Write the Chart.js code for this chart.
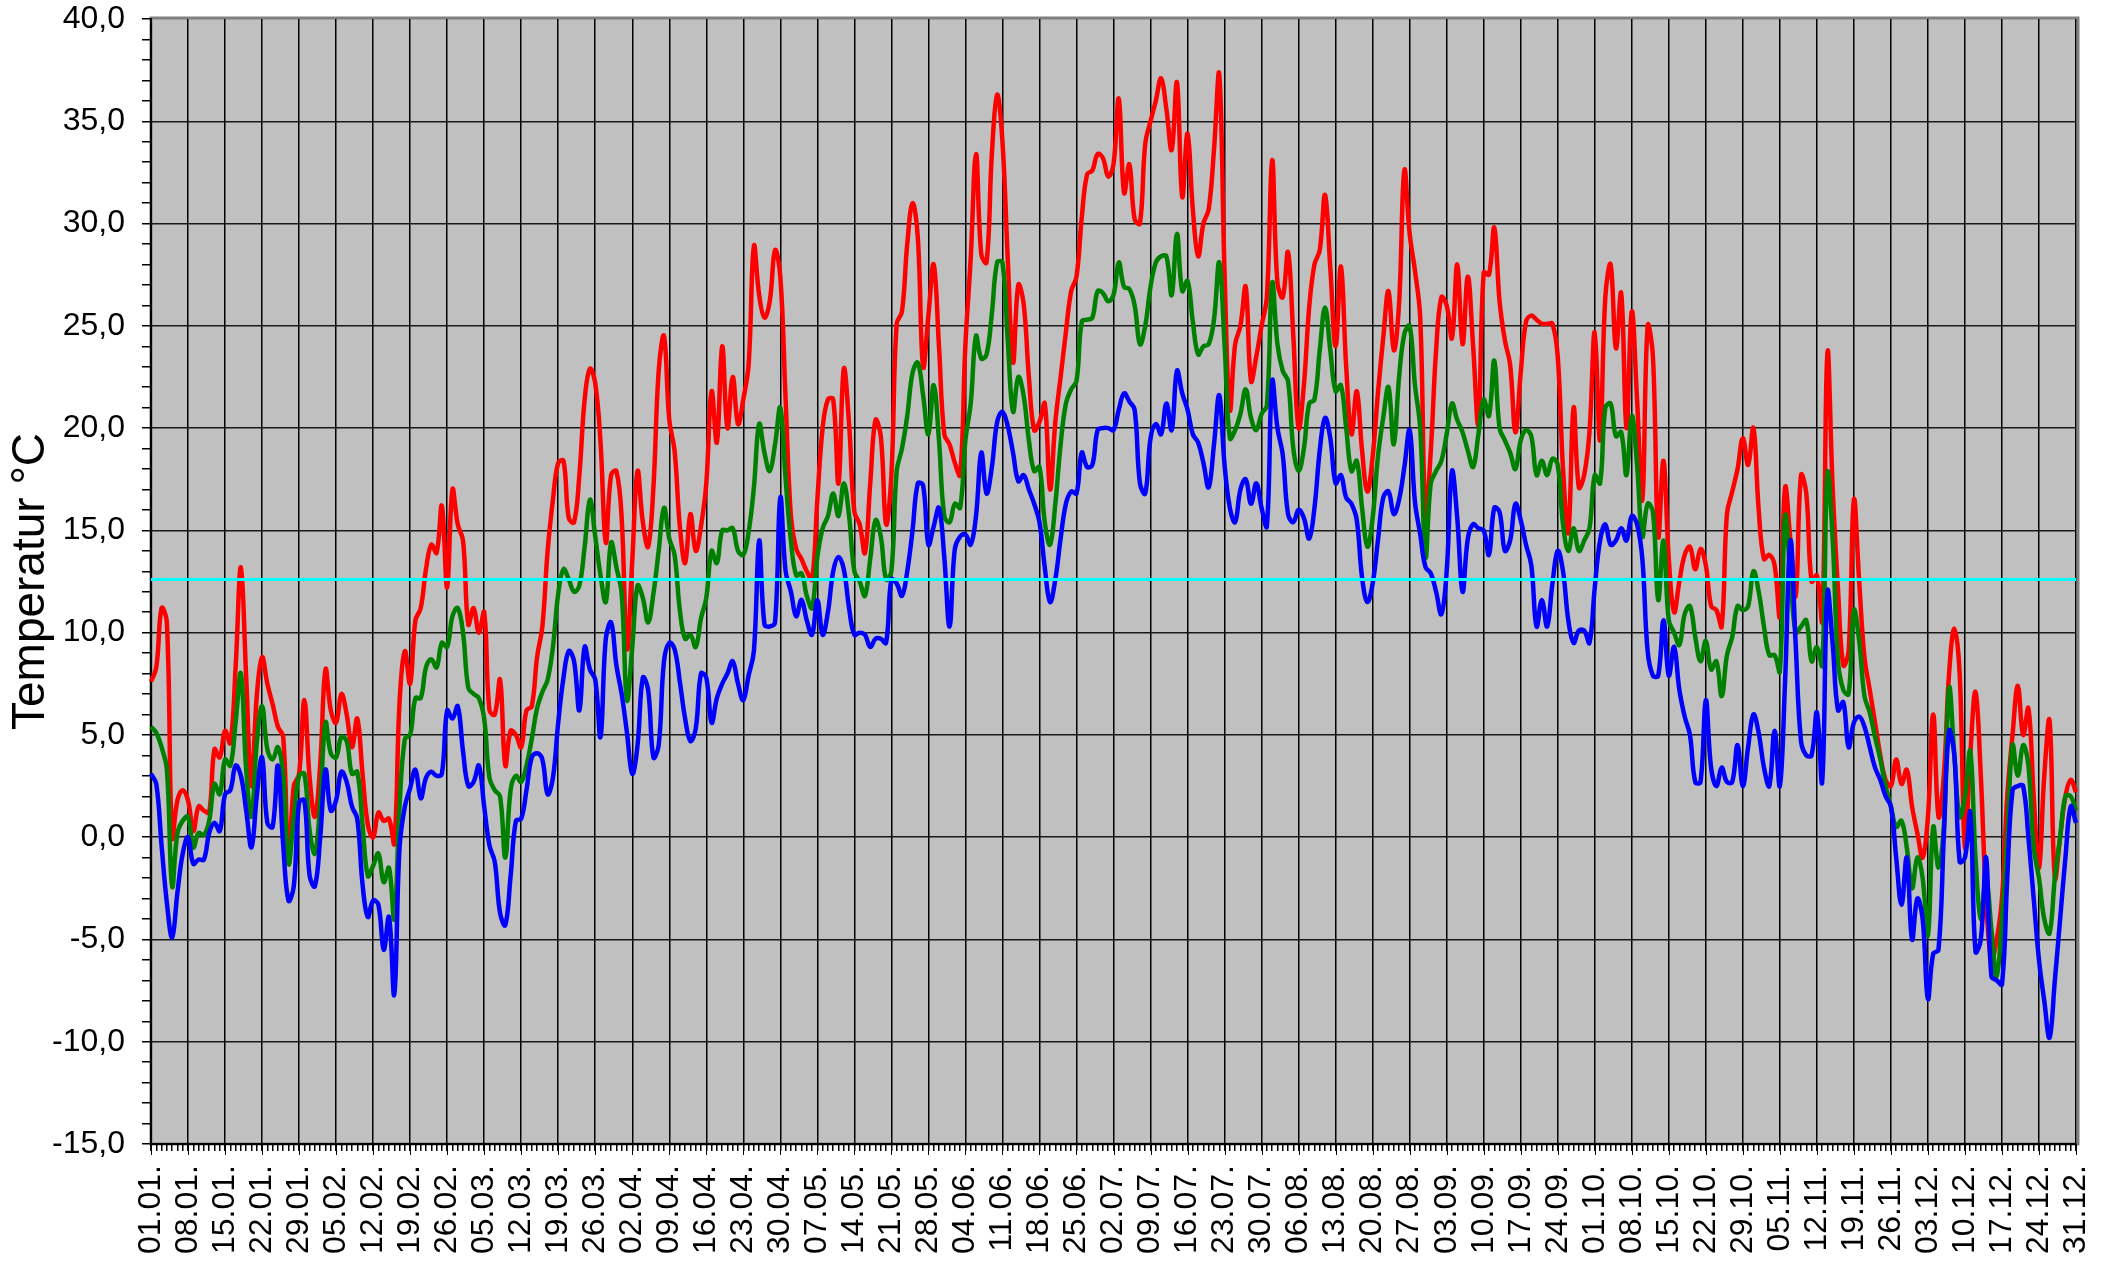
<!DOCTYPE html>
<html lang="de">
<head>
<meta charset="UTF-8">
<title>Temperatur</title>
<script src="https://cdn.jsdelivr.net/npm/chart.js"></script>
<style>
  html, body { margin: 0; padding: 0; background: #fff; }
</style>
</head>
<body>
<canvas id="chart" width="2116" height="1267"></canvas>
<script>
// Tageswerte 01.01. - 31.12.
const tMax = [
  7.6, 8.3, 11.2, 10.5, 0.0, 1.8, 2.3, 1.8, 0.3, 1.5,
  1.3, 1.2, 4.3, 3.9, 5.2, 4.6, 8.3, 13.2, 7.8, 2.5,
  6.9, 8.8, 7.5, 6.5, 5.4, 4.9, -1.3, 2.5, 3.1, 6.7,
  2.9, 1.0, 3.6, 8.2, 6.2, 5.6, 7.0, 6.0, 4.4, 5.8,
  3.1, 0.6, 0.0, 1.2, 0.8, 0.9, -0.3, 6.6, 9.1, 7.5,
  10.6, 11.2, 13.1, 14.3, 13.9, 16.2, 12.2, 17.0, 15.3, 14.5,
  10.4, 11.2, 10.0, 11.0, 6.2, 6.0, 7.7, 3.5, 5.2, 5.0,
  4.4, 6.2, 6.4, 8.8, 10.3, 14.0, 16.5, 18.3, 18.4, 15.6,
  15.4, 17.7, 21.4, 22.9, 22.2, 19.3, 14.4, 17.7, 17.9, 15.6,
  9.2, 13.5, 17.9, 15.4, 14.2, 17.1, 22.8, 24.5, 20.4, 18.9,
  15.2, 13.4, 15.8, 14.0, 15.2, 17.3, 21.8, 19.3, 24.0, 20.0,
  22.5, 20.2, 21.4, 23.1, 28.9, 26.5, 25.4, 26.2, 28.7, 27.4,
  21.4, 15.7, 14.1, 13.6, 13.0, 12.6, 16.5, 20.0, 21.4, 21.4,
  17.3, 22.9, 20.2, 15.9, 15.3, 13.9, 17.3, 20.4, 19.6, 15.3,
  17.7, 25.1, 25.7, 29.0, 31.0, 29.3, 23.0, 25.5, 28.0, 24.0,
  19.7, 19.2, 18.3, 17.7, 24.1, 28.3, 33.4, 28.5, 28.1, 33.4,
  36.3, 34.0, 28.3, 23.2, 27.0, 26.1, 22.5, 19.9, 20.3, 21.2,
  17.0, 20.3, 22.5, 24.7, 26.7, 27.4, 30.3, 32.4, 32.6, 33.4,
  33.2, 32.3, 32.9, 36.1, 31.5, 32.9, 30.2, 30.0, 33.9, 35.0,
  36.0, 37.1, 35.6, 33.6, 36.9, 31.3, 34.4, 30.7, 28.4, 30.0,
  30.7, 33.6, 37.3, 27.6, 20.9, 24.1, 25.0, 26.9, 22.3, 23.5,
  25.0, 26.4, 33.1, 27.1, 26.4, 28.6, 24.5, 20.0, 22.1, 25.9,
  28.0, 28.7, 31.4, 27.8, 24.0, 27.9, 23.0, 19.7, 21.8, 18.9,
  16.9, 18.6, 21.7, 24.4, 26.7, 23.8, 26.1, 32.6, 29.5, 27.7,
  25.4, 15.7, 18.9, 23.8, 26.4, 26.0, 24.4, 28.0, 24.1, 27.4,
  24.0, 20.2, 27.6, 27.5, 29.8, 26.2, 24.3, 23.1, 19.8, 22.7,
  25.2, 25.5, 25.3, 25.1, 25.1, 25.1, 23.5, 18.0, 14.9, 21.0,
  17.1, 17.7, 19.8, 24.7, 19.4, 26.4, 28.0, 23.9, 26.6, 20.0,
  25.7, 21.4, 16.5, 25.0, 23.5, 14.7, 18.4, 13.6, 11.0, 12.5,
  13.8, 14.2, 13.1, 14.1, 13.3, 11.3, 11.1, 10.3, 15.8, 16.9,
  18.0, 19.5, 18.2, 20.0, 16.0, 13.6, 13.8, 13.3, 10.8, 17.1,
  14.5, 11.8, 17.7, 16.8, 12.5, 12.8, 10.6, 23.7, 17.0, 12.1,
  8.4, 9.1, 16.5, 12.5, 8.8, 7.2, 5.6, 4.0, 2.8, 2.5,
  3.8, 2.6, 3.3, 1.5, 0.2, -1.0, 1.0, 6.0, 1.0, 3.0,
  8.0, 10.2, 8.0, -0.5, 4.0, 7.1, 3.0, -3.0, -6.0, -5.0,
  -3.0, 2.0, 5.0, 7.4, 5.0, 6.3, 2.0, -1.5, 3.0, 5.7,
  -2.0, 0.0, 2.0, 2.8, 2.2
];

const tMittel = [
  5.4, 5.1, 4.4, 3.3, -2.4, 0.2, 0.8, 1.0, -0.5, 0.2,
  0.1, 0.8, 2.6, 2.1, 3.8, 3.5, 5.6, 8.0, 3.3, 1.0,
  4.6, 6.4, 4.3, 3.8, 4.4, 3.0, -1.3, 1.0, 3.0, 3.1,
  0.3, -0.8, 1.7, 5.6, 4.1, 3.9, 4.9, 4.7, 3.1, 3.2,
  0.6, -1.9, -1.4, -0.8, -2.2, -1.5, -4.0, 1.5, 4.8, 5.0,
  6.8, 6.8, 8.3, 8.7, 8.3, 9.5, 9.3, 10.8, 11.2, 10.0,
  7.3, 7.0, 6.8, 5.8, 2.9, 2.3, 2.0, -1.0, 2.3, 3.0,
  2.7, 3.5, 4.8, 6.3, 7.1, 7.7, 9.3, 11.9, 13.1, 12.6,
  12.0, 12.3, 14.2, 16.5, 14.7, 12.8, 11.5, 14.4, 13.2, 11.9,
  6.7, 9.3, 12.3, 11.7, 10.5, 11.9, 14.0, 16.1, 14.6, 13.8,
  11.1, 9.7, 9.9, 9.3, 10.7, 11.7, 14.0, 13.4, 15.0, 15.0,
  15.1, 14.0, 13.8, 14.9, 17.1, 20.2, 18.8, 17.9, 19.2, 21.0,
  17.5, 14.5, 12.8, 12.9, 11.8, 11.2, 13.7, 15.1, 15.7, 16.8,
  15.7, 17.3, 15.7, 13.0, 12.5, 11.8, 13.6, 15.5, 14.7, 12.6,
  13.0, 17.9, 19.0, 20.6, 22.7, 23.2, 21.6, 19.7, 22.1, 19.4,
  15.7, 15.4, 16.3, 16.1, 19.4, 21.2, 24.5, 23.4, 23.6, 25.6,
  28.1, 28.1, 24.3, 20.8, 22.5, 21.6, 19.4, 17.9, 18.1, 15.4,
  14.3, 16.3, 19.2, 21.2, 21.9, 22.3, 25.2, 25.3, 25.4, 26.7,
  26.6, 26.2, 26.5, 28.1, 26.9, 26.8, 26.0, 24.1, 25.0, 26.9,
  28.1, 28.4, 28.4, 26.5, 29.5, 26.7, 27.2, 25.2, 23.6, 24.0,
  24.1, 25.3, 28.1, 24.1, 19.5, 19.9, 20.7, 21.9, 20.5, 19.9,
  20.7, 21.1, 27.1, 24.1, 22.8, 22.3, 19.0, 17.9, 19.0, 21.2,
  21.4, 23.8, 25.9, 23.8, 21.8, 22.1, 20.0, 17.9, 18.4, 16.1,
  14.2, 15.6, 18.6, 20.5, 22.0, 19.2, 22.5, 24.6, 25.0, 22.1,
  20.0, 13.7, 17.3, 17.9, 18.4, 19.7, 21.2, 20.4, 19.8, 18.9,
  18.1, 19.7, 21.4, 20.6, 23.3, 20.0, 19.4, 18.8, 18.0, 19.4,
  19.9, 19.6, 17.7, 18.4, 17.7, 18.5, 18.2, 15.3, 14.0, 15.1,
  14.0, 14.5, 15.1, 17.7, 17.3, 21.0, 21.2, 19.6, 19.8, 17.7,
  20.6, 18.2, 14.7, 16.3, 15.9, 11.6, 14.5, 10.6, 10.0, 9.4,
  10.9, 11.3, 9.8, 8.6, 9.6, 8.2, 8.6, 6.9, 8.9, 9.8,
  11.3, 11.1, 11.3, 13.0, 12.0, 10.3, 8.9, 8.9, 8.1, 15.7,
  12.8, 10.0, 10.3, 10.6, 8.6, 9.3, 8.4, 17.8, 14.5, 8.6,
  7.2, 7.0, 11.1, 9.6, 6.9, 6.1, 4.9, 3.8, 2.5, 1.5,
  0.5, 0.8, -0.5, -2.5, -1.0, -2.0, -4.8, 0.5, -1.5, 0.5,
  7.3, 4.0, 1.0, 2.0, 4.2, -1.0, -4.0, -2.0, -4.5, -6.8,
  -4.0, 0.0, 4.5, 3.0, 4.5, 3.5, -0.5, -2.0, -4.0, -4.7,
  -2.0, 0.0, 2.0, 2.0, 1.3
];

const tMin = [
  3.1, 2.6, -0.4, -3.2, -4.9, -2.7, -0.8, 0.0, -1.3, -1.1,
  -1.1, 0.2, 0.7, 0.3, 2.1, 2.3, 3.5, 3.0, 1.3, -0.5,
  2.0, 3.9, 0.7, 0.5, 3.5, -0.4, -3.1, -2.4, 1.7, 1.8,
  -1.9, -2.4, 0.0, 3.3, 1.3, 1.8, 3.2, 2.7, 1.5, 0.9,
  -2.3, -3.9, -3.1, -3.3, -5.5, -3.9, -7.7, -0.5, 1.5, 2.4,
  3.3, 1.9, 2.9, 3.2, 3.0, 3.1, 6.2, 5.8, 6.4, 4.2,
  2.5, 2.7, 3.5, 1.5, -0.4, -1.2, -3.7, -4.3, -1.9, 0.8,
  0.9, 2.3, 3.9, 4.1, 3.8, 2.1, 2.9, 5.6, 7.8, 9.1,
  8.6, 6.2, 9.3, 8.2, 7.7, 4.9, 9.7, 10.5, 8.4, 7.0,
  5.1, 3.1, 4.5, 7.8, 7.2, 3.9, 4.5, 8.6, 9.5, 9.2,
  7.6, 5.8, 4.7, 5.3, 8.0, 7.8, 5.6, 6.8, 7.5, 8.0,
  8.6, 7.5, 6.7, 7.9, 9.1, 14.5, 10.4, 10.3, 10.5, 16.6,
  13.0, 12.0, 10.8, 11.6, 10.6, 9.9, 11.6, 9.9, 11.0, 13.0,
  13.7, 13.1, 11.2, 9.9, 10.0, 9.9, 9.3, 9.7, 9.7, 9.5,
  12.6, 12.4, 11.8, 13.0, 15.0, 17.3, 17.2, 14.3, 15.2, 16.1,
  13.7, 10.3, 14.1, 14.7, 14.8, 14.3, 15.7, 18.8, 16.8, 18.1,
  20.3, 20.8, 20.1, 18.8, 17.4, 17.7, 17.0, 16.3, 15.4, 13.2,
  11.5, 12.6, 14.6, 16.3, 16.9, 16.8, 18.8, 18.1, 18.2, 19.9,
  20.0, 20.0, 19.9, 20.9, 21.7, 21.3, 20.9, 17.3, 16.8, 19.5,
  20.2, 19.7, 21.2, 19.9, 22.8, 21.7, 20.9, 19.7, 19.3, 18.3,
  17.1, 19.2, 21.6, 18.2, 16.1, 15.4, 17.0, 17.5, 16.3, 17.3,
  16.1, 15.2, 22.3, 20.0, 18.7, 15.8, 15.4, 16.0, 15.6, 14.6,
  16.1, 18.9, 20.5, 19.5, 17.3, 17.7, 16.6, 16.3, 15.5, 12.7,
  11.5, 12.4, 14.5, 16.6, 16.9, 15.8, 16.5, 18.1, 19.9, 16.4,
  14.8, 13.2, 12.9, 12.0, 10.9, 13.0, 17.9, 15.6, 12.0, 14.6,
  15.3, 15.1, 15.0, 13.8, 16.1, 15.9, 14.0, 14.5, 16.3, 15.5,
  14.3, 13.3, 10.3, 11.6, 10.3, 12.4, 14.0, 13.0, 10.6, 9.5,
  10.1, 10.1, 9.5, 12.2, 14.5, 15.3, 14.3, 14.5, 15.1, 14.5,
  15.7, 15.3, 13.6, 9.1, 7.9, 7.9, 10.6, 7.9, 9.3, 7.2,
  5.9, 5.0, 2.7, 2.7, 6.7, 3.4, 2.5, 3.4, 2.7, 2.7,
  4.5, 2.5, 4.4, 6.0, 5.1, 3.4, 2.5, 5.2, 2.5, 7.7,
  14.5, 9.4, 4.7, 4.0, 4.0, 6.1, 2.7, 12.0, 9.4, 6.2,
  6.6, 4.4, 5.6, 5.9, 5.4, 4.4, 3.4, 2.8, 2.0, 1.5,
  -1.0, -3.3, -1.0, -5.0, -3.0, -4.0, -7.9, -5.7, -5.5, 0.0,
  5.2, 4.0, -1.2, -1.0, 1.2, -5.6, -5.0, -1.0, -6.8, -7.0,
  -7.2, -2.0, 2.3, 2.5, 2.5, 0.0, -3.0, -6.0, -8.0, -9.8,
  -7.0, -4.0, -1.0, 1.5, 0.7
];

const jahresMittel = 12.6;
const yMin = -15;
const yMax = 40;

// Kategorien: jeder Tag des Jahres als "TT.MM."
const tage = [];
for (let d = new Date(2019, 0, 1); d.getFullYear() === 2019; d.setDate(d.getDate() + 1)) {
  const tt = String(d.getDate()).padStart(2, '0');
  const mm = String(d.getMonth() + 1).padStart(2, '0');
  tage.push(tt + '.' + mm + '.');
}

const schrift = "'Liberation Sans', Arial, sans-serif";

// grauer Hintergrund der Zeichenflaeche + Rahmen
const plotFlaeche = {
  id: 'plotFlaeche',
  beforeDraw(chart) {
    const { ctx, chartArea: a } = chart;
    ctx.save();
    ctx.fillStyle = '#c0c0c0';
    ctx.fillRect(a.left, a.top, a.right - a.left, a.bottom - a.top);
    ctx.strokeStyle = '#808080';
    ctx.lineWidth = 3;
    ctx.strokeRect(a.left, a.top - 1, a.right - a.left + 2, a.bottom - a.top + 1);
    ctx.restore();
  },
  afterDraw(chart) {
    // laengere Striche an den Wochen
    const x = chart.scales.x;
    const ctx = chart.ctx;
    ctx.save();
    ctx.strokeStyle = '#000';
    ctx.lineWidth = 1;
    ctx.beginPath();
    x.ticks.forEach((t, i) => {
      if (i % 7 !== 0) return;
      const px = Math.round(x.getPixelForTick(i)) + 0.5;
      ctx.moveTo(px, x.top);
      ctx.lineTo(px, x.top + 11);
    });
    ctx.stroke();
    ctx.restore();
  }
};

new Chart(document.getElementById('chart'), {
  type: 'line',
  data: {
    labels: tage,
    datasets: [
      {
        label: 'Jahresmittel',
        data: [{ x: tage[0], y: jahresMittel }, { x: tage[tage.length - 1], y: jahresMittel }],
        borderColor: '#00ffff',
        borderWidth: 3,
        tension: 0,
        order: 0
      },
      { label: 'Minimum', data: tMin, borderColor: '#0000ff', borderWidth: 4.5, tension: 0.4, order: 1 },
      { label: 'Mittel', data: tMittel, borderColor: '#008000', borderWidth: 4.5, tension: 0.4, order: 2 },
      { label: 'Maximum', data: tMax, borderColor: '#ff0000', borderWidth: 4.5, tension: 0.4, order: 3 }
    ]
  },
  options: {
    responsive: false,
    animation: false,
    devicePixelRatio: 1,
    layout: { padding: { top: 19, right: 40, left: 0, bottom: 0 } },
    elements: { point: { radius: 0 } },
    plugins: {
      legend: { display: false },
      tooltip: { enabled: false }
    },
    scales: {
      x: {
        offset: false,
        afterFit(s) {
          s.height = 123;
          s.paddingLeft = 0;
          s.paddingRight = 0;
        },
        border: { color: '#000', width: 2 },
        grid: {
          color: ctx => (ctx.index % 7 === 0 ? '#000' : 'rgba(0,0,0,0)'),
          lineWidth: 1.5,
          tickColor: '#000',
          tickLength: 7
        },
        ticks: {
          autoSkip: false,
          minRotation: 90,
          maxRotation: 90,
          padding: 14,
          color: '#000',
          font: { family: schrift, size: 32 },
          callback: function (value, index) {
            return index % 7 === 0 ? this.getLabelForValue(value) : '';
          }
        }
      },
      y: {
        min: yMin,
        max: yMax,
        afterFit(s) {
          s.width = 151;
          s.paddingTop = 0;
          s.paddingBottom = 0;
        },
        border: { color: '#000', width: 2 },
        grid: {
          color: ctx => (ctx.tick && ctx.tick.value % 5 === 0 && ctx.tick.value !== yMax ? '#1a1a1a' : 'rgba(0,0,0,0)'),
          lineWidth: 1.5,
          tickColor: '#000',
          tickLength: 9
        },
        ticks: {
          stepSize: 1,
          autoSkip: false,
          padding: 17,
          color: '#000',
          font: { family: schrift, size: 32 },
          callback: v => (v % 5 === 0 ? v.toFixed(1).replace('.', ',') : '')
        },
        title: {
          display: true,
          text: 'Temperatur °C',
          color: '#000',
          font: { family: schrift, size: 46 },
          padding: { top: 4, bottom: 0 }
        }
      }
    }
  },
  plugins: [plotFlaeche]
});
</script>
</body>
</html>
